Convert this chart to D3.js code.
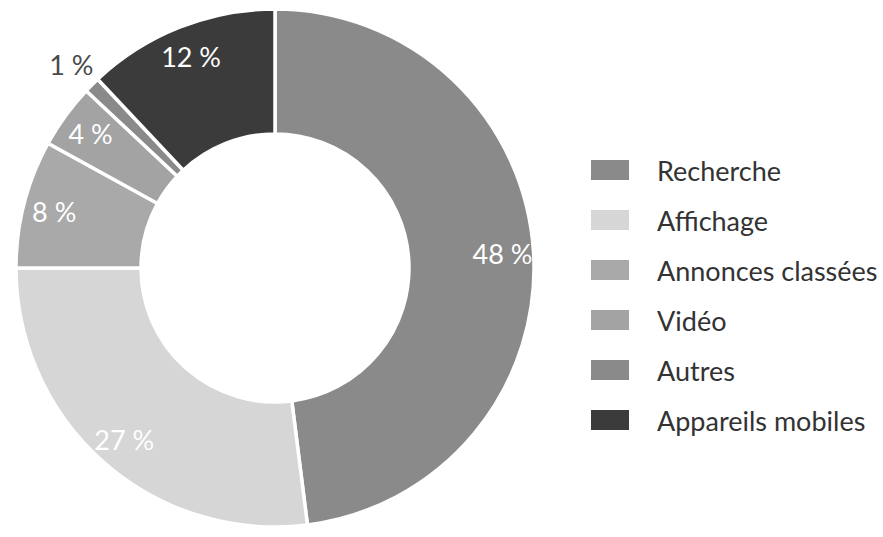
<!DOCTYPE html>
<html>
<head>
<meta charset="utf-8">
<script src="https://cdn.jsdelivr.net/npm/d3@7/dist/d3.min.js"></script>
<style>
  html, body { margin: 0; padding: 0; background: #fff; }
  svg { display: block; font-family: Lato, "Open Sans", sans-serif; }
</style>
</head>
<body>
<svg id="chart" width="883" height="537"></svg>
<script>
// Share of online advertising spend by format (%)
const categories = ["Recherche", "Affichage", "Annonces classées", "Vidéo", "Autres", "Appareils mobiles"];
const shares = [48, 27, 8, 4, 1, 12];
const labels = ["48 %", "27 %", "8 %", "4 %", "1 %", "12 %"];
const fills = ["#8a8a8a", "#d6d6d6", "#a9a9a9", "#a3a3a3", "#8a8a8a", "#3b3b3b"];

const width = 883, height = 537;
const cx = 275, cy = 268;
const outerR = 259, innerR = 134, labelR = 228, outsideR = 288;

const svg = d3.select("#chart");
const g = svg.append("g").attr("transform", `translate(${cx},${cy})`);

const color = d3.scaleOrdinal().domain(categories).range(fills);

const pie = d3.pie().sort(null).value((d, i) => shares[i]);
const arcs = pie(categories);

const arc = d3.arc().innerRadius(innerR).outerRadius(outerR);
const labelArc = d3.arc().innerRadius(labelR).outerRadius(labelR);
const outsideArc = d3.arc().innerRadius(outsideR).outerRadius(outsideR);

g.selectAll("path.slice")
  .data(arcs)
  .join("path")
  .attr("class", "slice")
  .attr("d", arc)
  .attr("fill", d => color(d.data))
  .attr("stroke", "#fff")
  .attr("stroke-width", 3.5)
  .attr("stroke-linejoin", "miter");

// Small slices get their label outside the ring
g.selectAll("text.value")
  .data(arcs)
  .join("text")
  .attr("class", "value")
  .attr("transform", d => {
    const small = d.value < 2;
    const [x, y] = (small ? outsideArc : labelArc).centroid(d);
    return `translate(${x},${y})`;
  })
  .attr("text-anchor", "middle")
  .attr("dominant-baseline", "central")
  .attr("font-size", 27)
  .attr("fill", d => d.value < 2 ? "#4a4a4a" : "#ffffff")
  .text(d => labels[d.index]);

// Legend
const legendX = 591, legendY0 = 170, legendStep = 50;
const legend = svg.append("g")
  .selectAll("g")
  .data(categories)
  .join("g")
  .attr("transform", (d, i) => `translate(${legendX},${legendY0 + i * legendStep})`);

legend.append("rect")
  .attr("x", 0)
  .attr("y", -10)
  .attr("width", 38)
  .attr("height", 20)
  .attr("fill", d => color(d));

legend.append("text")
  .attr("x", 66)
  .attr("y", 0)
  .attr("dominant-baseline", "central")
  .attr("font-size", 27)
  .attr("fill", "#333333")
  .text(d => d);
</script>
</body>
</html>
